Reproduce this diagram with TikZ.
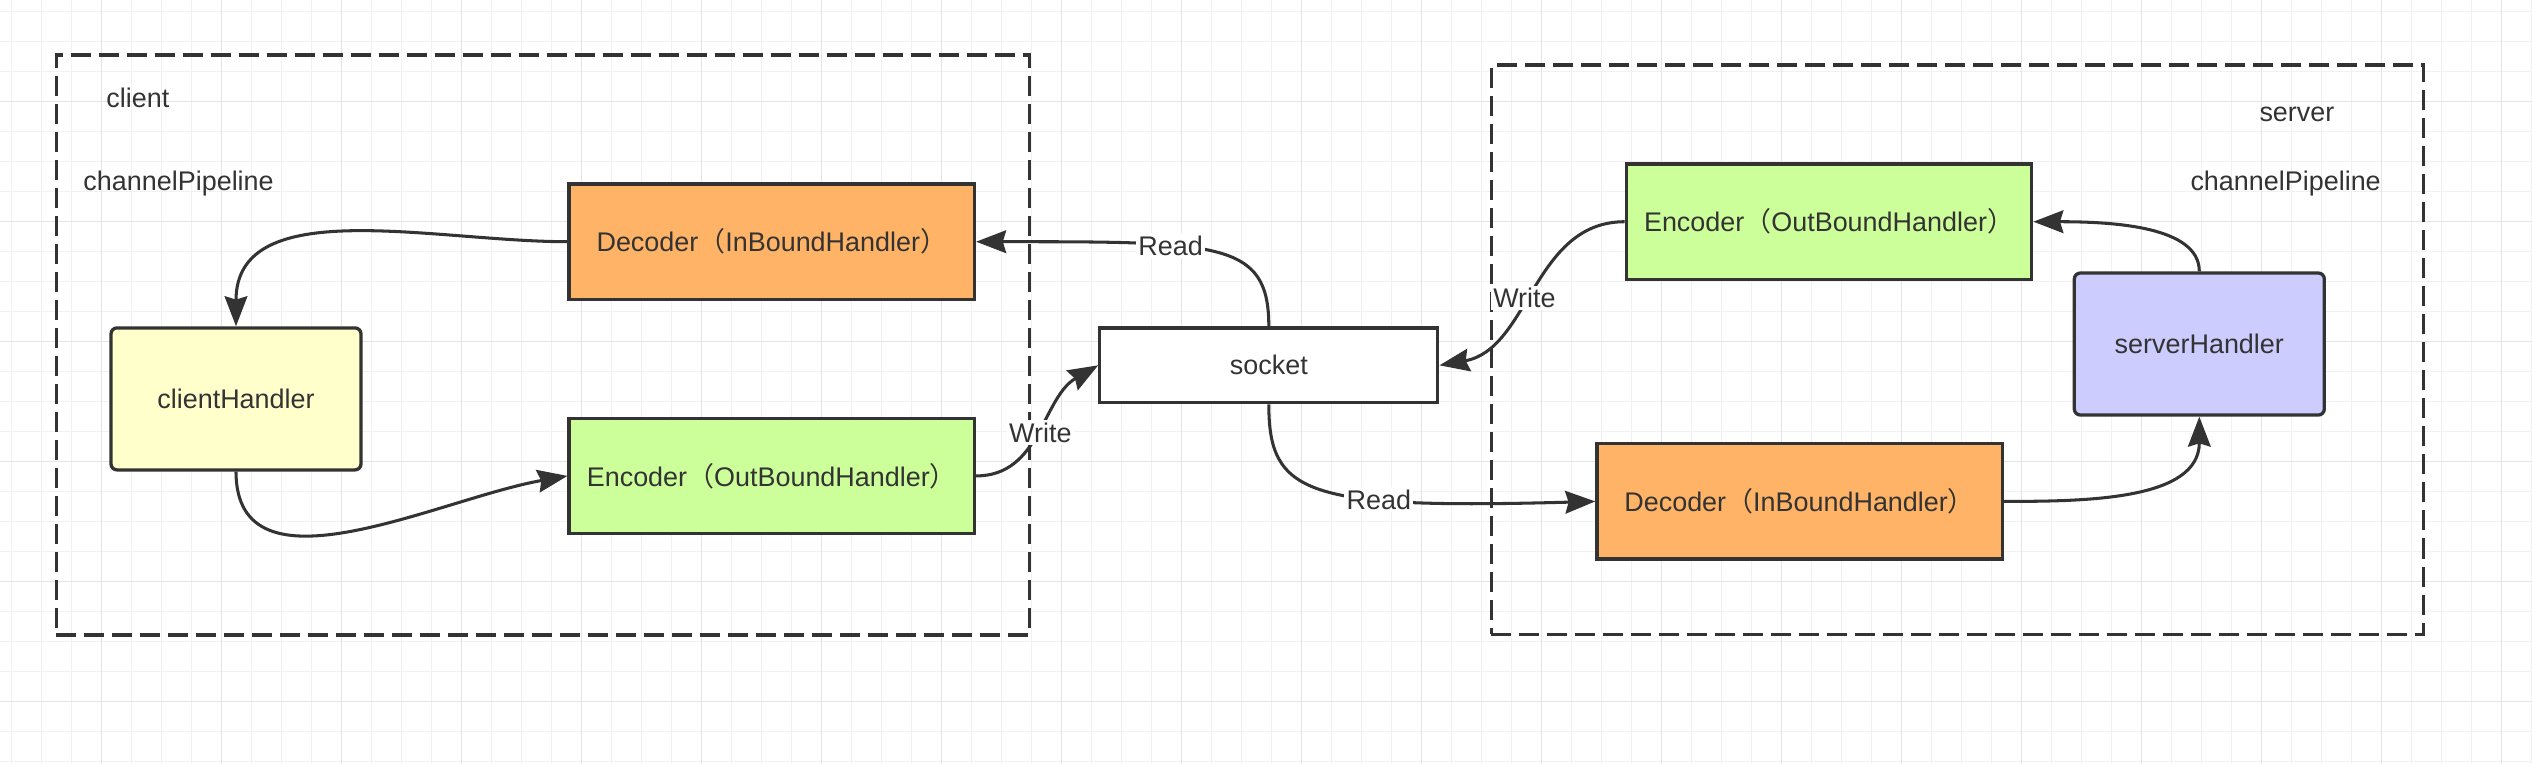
\documentclass[tikz,border=0pt]{standalone}
\usepackage{fontspec}
\setmainfont{Liberation Sans}
\newfontfamily\cjk{Noto Sans CJK SC}
\usetikzlibrary{arrows.meta}
\definecolor{decfill}{HTML}{FFB366}
\definecolor{encfill}{HTML}{CCFF99}
\definecolor{clifill}{HTML}{FFFFCC}
\definecolor{srvfill}{HTML}{CCCCFF}
\definecolor{ink}{HTML}{333333}
\definecolor{gridminor}{HTML}{F1F1F1}
\definecolor{gridmajor}{HTML}{E4E4E4}
\newcommand{\fwopen}{{\cjk （}}
\newcommand{\fwclose}{{\cjk ）}}
\tikzset{
  stage/.style={draw=ink, line width=1.4pt, minimum width=6.08cm, minimum height=1.73cm, inner sep=0pt},
  handler/.style={draw=ink, line width=1.4pt, rounded corners=0.09cm, minimum width=3.75cm, minimum height=2.13cm, inner sep=0pt},
  sockbox/.style={draw=ink, line width=1.4pt, fill=white, minimum width=5.07cm, minimum height=1.12cm, inner sep=0pt},
  group/.style={draw=ink, line width=1.5pt, dash pattern=on 0.3cm off 0.12cm, inner sep=0pt},
  caption/.style={anchor=base west, inner sep=0pt},
  flow/.style={draw=ink, line width=1.3pt, -{Stealth[length=0.45cm, width=0.34cm, inset=0.05cm]}},
  lbl/.style={fill=white, inner sep=1pt}
}
\begin{document}
\begin{tikzpicture}[x=0.015cm, y=-0.015cm, font=\fontsize{11.5pt}{14pt}\selectfont, text=ink]
  \useasboundingbox (0,0) rectangle (2532,764);
  \fill[white] (0,0) rectangle (2532,764);
  \foreach \gx in {11.7,41.7,...,2532} \draw[gridminor, line width=0.6pt] (\gx,0) -- (\gx,764);
  \foreach \gy in {11.7,41.7,...,764} \draw[gridminor, line width=0.6pt] (0,\gy) -- (2532,\gy);
  \foreach \gx in {101.7,221.7,...,2532} \draw[gridmajor, line width=0.6pt] (\gx,0) -- (\gx,764);
  \foreach \gy in {101.7,221.7,...,764} \draw[gridmajor, line width=0.6pt] (0,\gy) -- (2532,\gy);

  \node[group, minimum width=14.6cm, minimum height=8.7cm] (cgroup) at (543,345) {};
  \node[group, minimum width=13.98cm, minimum height=8.54cm] (sgroup) at (1957.3,349.8) {};

  \node[caption] (cname) at (106,107) {client};
  \node[caption] (cpipe) at (83,190.5) {channelPipeline};
  \node[caption] (sname) at (2259,121.5) {server};
  \node[caption] (spipe) at (2190,190.5) {channelPipeline};

  \node[stage, fill=decfill] (cdec) at (771.8,241.7) {Decoder\fwopen InBoundHandler\fwclose};
  \node[stage, fill=encfill] (cenc) at (771.8,475.9) {Encoder\fwopen OutBoundHandler\fwclose};
  \node[handler, fill=clifill] (chand) at (236,398.9) {clientHandler};
  \node[sockbox] (sock) at (1268.8,365.3) {socket};
  \node[stage, fill=encfill] (senc) at (1829,221.7) {Encoder\fwopen OutBoundHandler\fwclose};
  \node[handler, fill=srvfill] (shand) at (2199.3,344) {serverHandler};
  \node[stage, fill=decfill] (sdec) at (1799.6,501.4) {Decoder\fwopen InBoundHandler\fwclose};

  \draw[flow] (cdec.west) to[out=180, in=90] (chand.north);
  \draw[flow] (chand.south) to[out=270, in=190] (cenc.west);
  \draw[flow] (cenc.east) to[out=0, in=210] node[lbl] {Write} (sock.west);
  \draw[flow] (sock.north) .. controls +(0,-85) and +(244,0) .. node[lbl, pos=0.64] {Read} (cdec.east);
  \draw[flow] (senc.west) to[out=180, in=10] node[lbl, pos=0.55] {Write} (sock.east);
  \draw[flow] (sock.south) .. controls +(0,90) and +(-290,8) .. node[lbl, pos=0.66] {Read} (sdec.west);
  \draw[flow] (sdec.east) to[out=0, in=270] (shand.south);
  \draw[flow] (shand.north) .. controls +(0,-45) and +(80,0) .. (senc.east);
\end{tikzpicture}
\end{document}
